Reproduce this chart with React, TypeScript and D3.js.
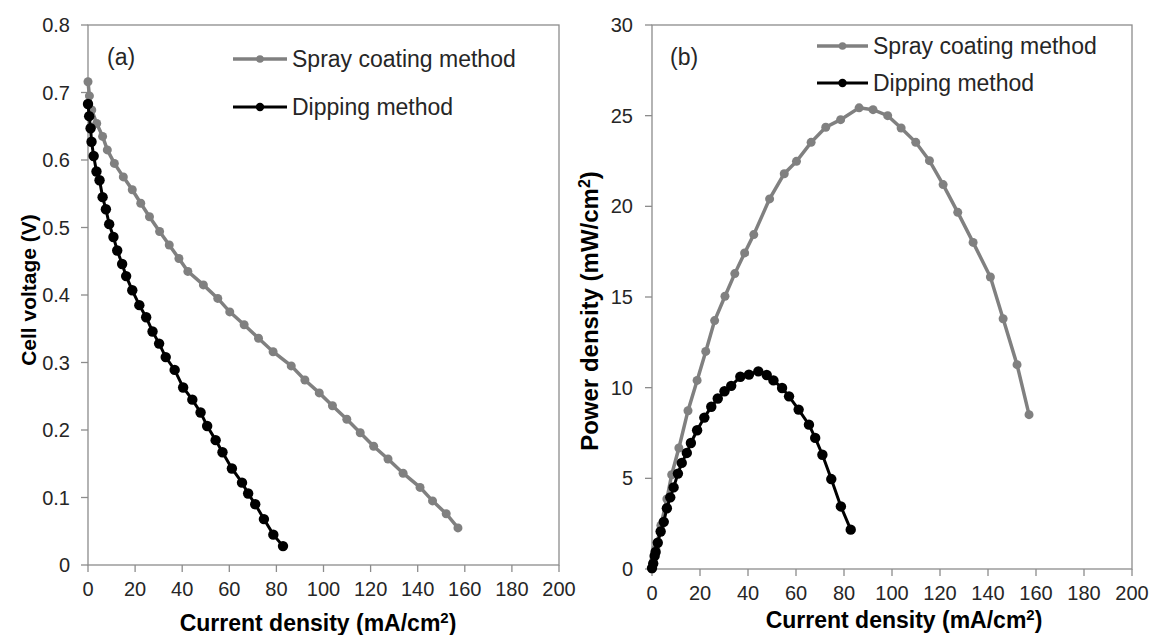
import React from "react";
import * as d3 from "d3";

// ---------- data ----------
const sprayCurrent = [0, 0.6, 1.6, 3.7, 6.2, 8.2, 11.2, 15.0, 18.8, 22.4, 26.1, 30.4, 34.5, 38.6, 42.4, 49.0, 55.1, 60.2, 66.3, 72.4, 78.6, 86.3, 92.1, 98.2, 103.8, 109.9, 115.6, 121.3, 127.4, 133.8, 141.0, 146.3, 152.1, 157.1];
const sprayVoltage = [0.716, 0.695, 0.674, 0.654, 0.635, 0.615, 0.595, 0.575, 0.556, 0.536, 0.516, 0.494, 0.474, 0.454, 0.435, 0.415, 0.395, 0.375, 0.356, 0.336, 0.316, 0.295, 0.274, 0.255, 0.236, 0.216, 0.196, 0.176, 0.157, 0.136, 0.115, 0.095, 0.076, 0.055];
const sprayPower = [0, 0.42, 1.1, 2.4, 3.86, 5.2, 6.67, 8.73, 10.4, 12.0, 13.7, 15.04, 16.29, 17.43, 18.44, 20.41, 21.8, 22.48, 23.53, 24.36, 24.78, 25.43, 25.33, 25.0, 24.32, 23.53, 22.52, 21.2, 19.67, 18.01, 16.1, 13.8, 11.27, 8.51];

const dipCurrent = [0, 0.5, 1.1, 1.5, 2.4, 3.6, 4.9, 6.2, 7.6, 9.0, 10.8, 12.4, 14.5, 16.2, 18.8, 21.8, 24.7, 27.4, 30.2, 33.0, 36.8, 40.4, 44.3, 47.8, 50.6, 54.2, 57.1, 61.1, 65.4, 68.0, 71.0, 74.7, 78.7, 82.8];
const dipVoltage = [0.683, 0.665, 0.647, 0.627, 0.606, 0.583, 0.57, 0.545, 0.527, 0.505, 0.486, 0.466, 0.446, 0.428, 0.407, 0.385, 0.367, 0.346, 0.328, 0.308, 0.289, 0.263, 0.245, 0.226, 0.206, 0.185, 0.167, 0.143, 0.122, 0.106, 0.09, 0.068, 0.045, 0.028];
const dipPower = [0.05, 0.3, 0.72, 0.94, 1.45, 2.07, 2.6, 3.35, 3.95, 4.5, 5.26, 5.85, 6.4, 6.95, 7.65, 8.35, 8.95, 9.4, 9.8, 10.1, 10.6, 10.72, 10.9, 10.7, 10.4, 9.98, 9.52, 8.79, 7.96, 7.23, 6.3, 4.96, 3.45, 2.17];

const xTicks = [0, 20, 40, 60, 80, 100, 120, 140, 160, 180, 200];
const voltageTicks = [0, 0.1, 0.2, 0.3, 0.4, 0.5, 0.6, 0.7, 0.8];
const powerTicks = [0, 5, 10, 15, 20, 25, 30];
const seriesNames = ["Spray coating method", "Dipping method"];

// ---------- styles ----------
const FONT = "'Liberation Sans', Arial, sans-serif";
const AXIS = "#8c8c8c";
const TXT = "#262626";
const GRAY = "#808080";
const BLACK = "#000000";

type Pt = [number, number];
const zip = (a: number[], b: number[]): Pt[] => a.map((v, i) => [v, b[i]]);

function Panel(props: {
  left: number; right: number; top: number; bottom: number;
  yMax: number; yTicks: number[]; yFmt: (v: number) => string;
  labelRight: number; xLabelBase: number;
  yTitle: React.ReactNode; yTitleX: number; yTitleY: number; yTitleSize: number;
  xTitleX: number; xTitleBase: number;
  sprayPts: Pt[]; dipPts: Pt[];
  tag: string; tagX: number; tagY: number;
  legX1: number; legX2: number; legY1: number; legY2: number; legTextX: number;
}) {
  const p = props;
  const x = d3.scaleLinear().domain([0, 200]).range([p.left, p.right]);
  const y = d3.scaleLinear().domain([0, p.yMax]).range([p.bottom, p.top]);
  const line = d3.line<Pt>().x((d) => x(d[0])).y((d) => y(d[1]));
  const legMid = (p.legX1 + p.legX2) / 2;
  return (
    <g>
      {/* frame */}
      <rect x={p.left} y={p.top} width={p.right - p.left} height={p.bottom - p.top} fill="none" stroke={AXIS} strokeWidth={1.3} />
      {/* y ticks */}
      {p.yTicks.map((t) => (
        <g key={"y" + t}>
          <line x1={p.left - 7} x2={p.left} y1={y(t)} y2={y(t)} stroke={AXIS} strokeWidth={1.3} />
          <text x={p.labelRight} y={y(t) + 7} textAnchor="end" fontSize={20} fill={TXT} fontFamily={FONT}>{p.yFmt(t)}</text>
        </g>
      ))}
      {/* x ticks */}
      {xTicks.map((t) => (
        <g key={"x" + t}>
          <line x1={x(t)} x2={x(t)} y1={p.bottom} y2={p.bottom + 7} stroke={AXIS} strokeWidth={1.3} />
          <text x={x(t)} y={p.xLabelBase} textAnchor="middle" fontSize={20} fill={TXT} fontFamily={FONT}>{t}</text>
        </g>
      ))}
      {/* series */}
      <path d={line(p.sprayPts) || ""} fill="none" stroke={GRAY} strokeWidth={3.5} />
      {p.sprayPts.map((d, i) => (
        <circle key={"s" + i} cx={x(d[0])} cy={y(d[1])} r={4.5} fill={GRAY} />
      ))}
      <path d={line(p.dipPts) || ""} fill="none" stroke={BLACK} strokeWidth={3} />
      {p.dipPts.map((d, i) => (
        <circle key={"d" + i} cx={x(d[0])} cy={y(d[1])} r={5.2} fill={BLACK} />
      ))}
      {/* tag */}
      <text x={p.tagX} y={p.tagY + 8} fontSize={23} fill={TXT} fontFamily={FONT}>{p.tag}</text>
      {/* legend */}
      <line x1={p.legX1} x2={p.legX2} y1={p.legY1} y2={p.legY1} stroke={GRAY} strokeWidth={3.5} />
      <circle cx={legMid} cy={p.legY1} r={3.8} fill={GRAY} />
      <text x={p.legTextX} y={p.legY1 + 8} fontSize={23} fill={TXT} fontFamily={FONT}>{seriesNames[0]}</text>
      <line x1={p.legX1} x2={p.legX2} y1={p.legY2} y2={p.legY2} stroke={BLACK} strokeWidth={3} />
      <circle cx={legMid} cy={p.legY2} r={4.2} fill={BLACK} />
      <text x={p.legTextX} y={p.legY2 + 8} fontSize={23} fill={TXT} fontFamily={FONT}>{seriesNames[1]}</text>
      {/* titles */}
      <text x={p.xTitleX} y={p.xTitleBase} textAnchor="middle" fontSize={23} fontWeight="bold" fill={BLACK} fontFamily={FONT}>
        Current density (mA/cm<tspan fontSize={15} dy={-8}>2</tspan><tspan dy={8}>)</tspan>
      </text>
      <text transform={`translate(${p.yTitleX},${p.yTitleY}) rotate(-90)`} textAnchor="middle" fontSize={p.yTitleSize} fontWeight="bold" fill={BLACK} fontFamily={FONT}>
        {p.yTitle}
      </text>
    </g>
  );
}

export default function App() {
  return (
    <svg width={1151} height={635} style={{ position: "absolute", left: 0, top: 0, background: "#fff" }}>
      <rect width={1151} height={635} fill="#fff" />
      <Panel
        left={88} right={559} top={25} bottom={565}
        yMax={0.8} yTicks={voltageTicks} yFmt={(v) => (v === 0 ? "0" : d3.format(".1f")(v))}
        labelRight={70} xLabelBase={596}
        yTitle={"Cell voltage (V)"} yTitleX={36} yTitleY={290} yTitleSize={21}
        xTitleX={318} xTitleBase={631}
        sprayPts={zip(sprayCurrent, sprayVoltage)} dipPts={zip(dipCurrent, dipVoltage)}
        tag="(a)" tagX={107} tagY={57}
        legX1={233} legX2={287} legY1={59} legY2={107} legTextX={292}
      />
      <Panel
        left={652} right={1132} top={25} bottom={569}
        yMax={30} yTicks={powerTicks} yFmt={(v) => String(v)}
        labelRight={633} xLabelBase={600}
        yTitle={<>Power density (mW/cm<tspan fontSize={16} dy={-8}>2</tspan><tspan dy={8}>)</tspan></>}
        yTitleX={598} yTitleY={311} yTitleSize={24}
        xTitleX={904} xTitleBase={628}
        sprayPts={zip(sprayCurrent, sprayPower)} dipPts={zip(dipCurrent, dipPower)}
        tag="(b)" tagX={670} tagY={57}
        legX1={817} legX2={868} legY1={46} legY2={83} legTextX={873}
      />
    </svg>
  );
}
